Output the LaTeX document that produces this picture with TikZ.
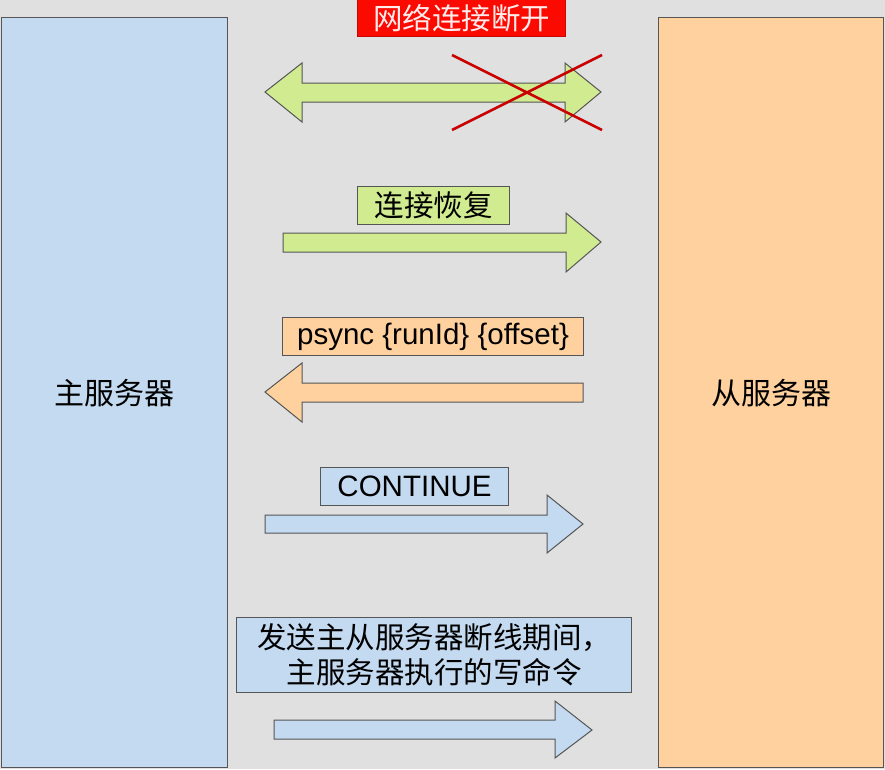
\documentclass[tikz,border=0pt]{standalone}
\usepackage{fontspec}
\setmainfont{Liberation Sans}
\newfontfamily\cjk{Noto Sans CJK SC}
\definecolor{bggray}{HTML}{E0E0E0}
\definecolor{srvblue}{HTML}{C4DAF0}
\definecolor{srvorange}{HTML}{FFD19E}
\definecolor{okgreen}{HTML}{D1EB91}
\definecolor{alertred}{HTML}{FA0A00}
\definecolor{crossred}{HTML}{C80000}
\definecolor{edge}{HTML}{555555}
\begin{document}
\begin{tikzpicture}[x=1pt,y=-1pt,
  box/.style={draw=edge, line width=1.3pt, inner sep=0pt, anchor=north west,
    font=\fontsize{30}{35}\selectfont},
  label/.style={box, line width=1pt, font=\fontsize{29.5}{35}\selectfont, align=center},
  blockarrow/.style={draw=edge, line width=1pt, line join=miter}]
\useasboundingbox (0,0) rectangle (885,769);
\fill[bggray] (0,0) rectangle (885,769);

% master and slave servers
\node[box, fill=srvblue, minimum width=226pt, minimum height=750pt] (master) at (1,17) {\cjk 主服务器};
\node[box, fill=srvorange, minimum width=225pt, minimum height=750pt] (slave) at (658,17) {\cjk 从服务器};

% step labels
\node[label, draw=alertred!80!black, fill=alertred, text=white!92!red, minimum width=208pt, minimum height=37pt] (lost) at (357,-1) {\cjk 网络连接断开};
\node[label, fill=okgreen, minimum width=152pt, minimum height=38pt] (back) at (357,186) {\cjk 连接恢复};
\node[label, fill=srvorange, minimum width=301pt, minimum height=38pt] (psync) at (282,317) {psync \{runId\} \{offset\}};
\node[label, fill=srvblue, minimum width=188pt, minimum height=38pt] (cont) at (320,467) {CONTINUE};
\node[label, fill=srvblue, minimum width=395pt, minimum height=75pt, font=\fontsize{29.5}{35}\selectfont\cjk] (cmds) at (236,617) {发送主从服务器断线期间，\\主服务器执行的写命令};

% broken link: double block arrow crossed out
\draw[blockarrow, fill=okgreen] (265,92) -- (302,63) -- (302,83) -- (565,83) -- (565,63) -- (601,92)
  -- (565,122) -- (565,102) -- (302,102) -- (302,122) -- cycle;
\draw[crossred, line width=2.6pt] (452,55) -- (602,130) (452,130) -- (602,55);

% reconnect
\draw[blockarrow, fill=okgreen] (283,233) -- (566,233) -- (566,213) -- (601,242)
  -- (566,272) -- (566,252) -- (283,252) -- cycle;

% psync request from slave to master
\draw[blockarrow, fill=srvorange] (265,392) -- (302,363) -- (302,383) -- (583,383)
  -- (583,402) -- (302,402) -- (302,422) -- cycle;

% CONTINUE reply
\draw[blockarrow, fill=srvblue] (265,515) -- (547,515) -- (547,495) -- (583,524)
  -- (547,553) -- (547,533) -- (265,533) -- cycle;

% buffered write commands
\draw[blockarrow, fill=srvblue] (274,720) -- (555,720) -- (555,701) -- (592,730)
  -- (555,758) -- (555,739) -- (274,739) -- cycle;
\end{tikzpicture}
\end{document}
